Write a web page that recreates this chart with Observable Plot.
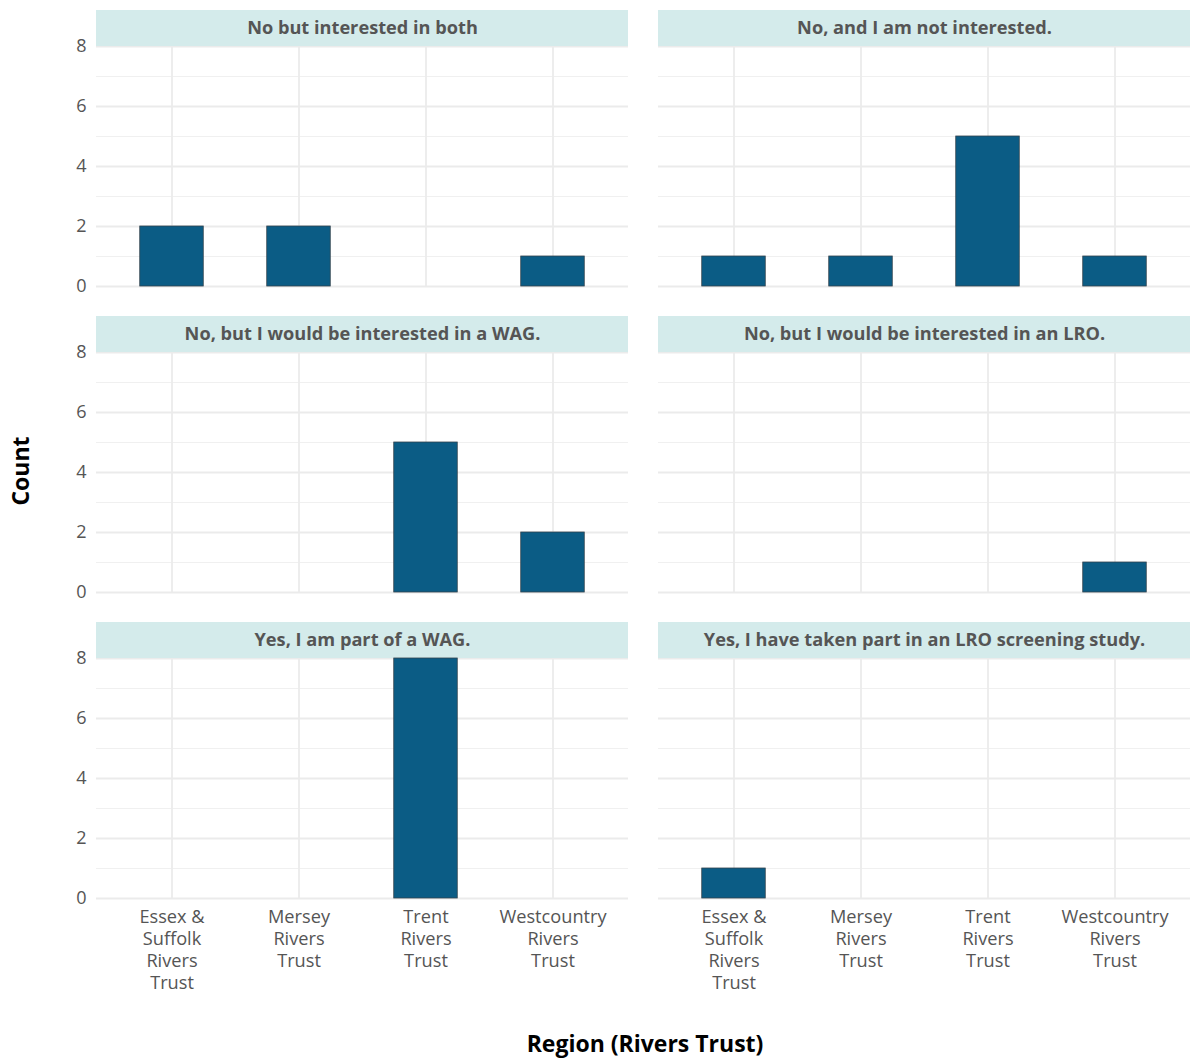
<!DOCTYPE html>
<html>
<head>
<meta charset="utf-8">
<script src="https://cdn.jsdelivr.net/npm/d3@7"></script>
<script src="https://cdn.jsdelivr.net/npm/@observablehq/plot@0.6"></script>
<style>
  html, body { margin: 0; padding: 0; background: #fff; }
  #wrap { position: relative; width: 1190px; height: 1059px; font-family: "Open Sans", sans-serif; }
  #ytitle { position: absolute; left: 20px; top: 471px; transform: translate(-50%, -50%) rotate(-90deg); font-weight: 700; font-size: 23px; color: #000; white-space: nowrap; }
  #xtitle { position: absolute; left: 645px; top: 1043px; transform: translate(-50%, -50%); font-weight: 700; font-size: 23px; color: #000; white-space: nowrap; }
</style>
</head>
<body>
<div id="wrap">
  <div id="chart"></div>
  <div id="ytitle">Count</div>
  <div id="xtitle">Region (Rivers Trust)</div>
</div>
<script>
const categories = ["Essex & Suffolk Rivers Trust", "Mersey Rivers Trust", "Trent Rivers Trust", "Westcountry Rivers Trust"];
const tickLabels = ["Essex &\nSuffolk\nRivers\nTrust", "Mersey\nRivers\nTrust", "Trent\nRivers\nTrust", "Westcountry\nRivers\nTrust"];
const responses = [
  "No but interested in both",
  "No, and I am not interested.",
  "No, but I would be interested in a WAG.",
  "No, but I would be interested in an LRO.",
  "Yes, I am part of a WAG.",
  "Yes, I have taken part in an LRO screening study."
];
const countsBothInterested = [2, 2, 0, 1];
const countsNotInterested = [1, 1, 5, 1];
const countsInterestedWAG = [0, 0, 5, 2];
const countsInterestedLRO = [0, 0, 0, 1];
const countsPartOfWAG = [0, 0, 8, 0];
const countsLROStudy = [1, 0, 0, 0];
const seriesCounts = [countsBothInterested, countsNotInterested, countsInterestedWAG, countsInterestedLRO, countsPartOfWAG, countsLROStudy];
const yTicks = [0, 2, 4, 6, 8];
const yMinor = [1, 3, 5, 7];

const panels = responses.map((r, i) => ({label: r, col: i % 2, row: Math.floor(i / 2)}));
const data = [];
responses.forEach((r, i) => {
  categories.forEach((c, j) => {
    data.push({response: r, region: c, count: seriesCounts[i][j], col: i % 2, row: Math.floor(i / 2)});
  });
});

const chart = Plot.plot({
  width: 1190,
  height: 1059,
  marginLeft: 96,
  marginRight: 0,
  marginTop: 45,
  marginBottom: 161,
  style: {fontFamily: "'Open Sans', sans-serif", background: "#fff"},
  fx: {domain: [0, 1], paddingInner: 0.054, paddingOuter: 0, axis: null},
  fy: {domain: [0, 1, 2], paddingInner: 0.217, paddingOuter: 0, axis: null},
  x: {domain: categories, paddingInner: 0.5, paddingOuter: 0.3445, round: false},
  y: {domain: [0, 8]},
  marks: [
    Plot.gridY(yMinor, {stroke: "#f0f0f0", strokeOpacity: 1, strokeWidth: 1}),
    Plot.gridY(yTicks, {stroke: "#ebebeb", strokeOpacity: 1, strokeWidth: 1.8}),
    Plot.gridX({stroke: "#ebebeb", strokeOpacity: 1, strokeWidth: 1.8}),
    Plot.rect(panels, {fx: "col", fy: "row", y1: 8, y2: 9.2, fill: "#d4ebeb"}),
    Plot.text(panels, {fx: "col", fy: "row", text: "label", frameAnchor: "top", dy: -18, lineAnchor: "middle", fontSize: 18.2, fontWeight: 700, fill: "#555555"}),
    Plot.barY(data, {fx: "col", fy: "row", x: "region", y: "count", fill: "#0b5c85", stroke: "#34434d", strokeWidth: 0.8}),
    Plot.axisY({ticks: yTicks, tickSize: 0, tickPadding: 10, fontSize: 18, color: "#555555", label: null}),
    Plot.axisX({tickSize: 0, tickPadding: 9, fontSize: 18.2, color: "#555555", label: null, lineHeight: 1.21,
      tickFormat: d => tickLabels[categories.indexOf(d)]})
  ]
});
document.getElementById("chart").appendChild(chart);
</script>
</body>
</html>
